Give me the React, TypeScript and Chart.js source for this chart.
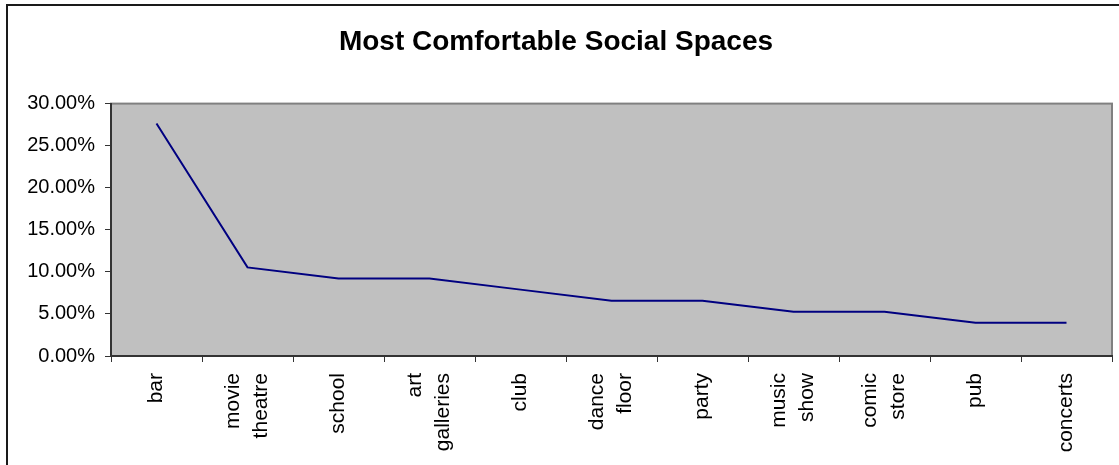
import React, { useEffect, useRef } from "react";
import { Chart, registerables } from "chart.js";

Chart.register(...registerables);

const TITLE = "Most Comfortable Social Spaces";
const CATEGORIES: string[][] = [
  ["bar"],
  ["movie", "theatre"],
  ["school"],
  ["art", "galleries"],
  ["club"],
  ["dance", "floor"],
  ["party"],
  ["music", "show"],
  ["comic", "store"],
  ["pub"],
  ["concerts"],
];
const SHARES: number[] = [0.2763, 0.1053, 0.0921, 0.0921, 0.0789, 0.0658, 0.0658, 0.0526, 0.0526, 0.0395, 0.0395];
const Y_MIN = 0;
const Y_MAX = 0.3;
const Y_STEP = 0.05;

const FONT = "'Liberation Sans', Arial, sans-serif";

const plotBackground = {
  id: "plotBackground",
  beforeDraw(chart: any) {
    const { ctx, chartArea } = chart;
    const { left, top, right, bottom } = chartArea;
    ctx.save();
    ctx.fillStyle = "#ffffff";
    ctx.fillRect(0, 0, chart.width, chart.height);
    // outer frame
    ctx.strokeStyle = "#1a1a1a";
    ctx.lineWidth = 2;
    ctx.beginPath();
    ctx.moveTo(7, chart.height);
    ctx.lineTo(7, 5);
    ctx.lineTo(chart.width, 5);
    ctx.stroke();
    // plot area
    ctx.fillStyle = "#c0c0c0";
    ctx.fillRect(left, top, right - left, bottom - top);
    ctx.strokeStyle = "#808080";
    ctx.lineWidth = 2;
    ctx.strokeRect(left, top, right - left, bottom - top);
    ctx.restore();
  },
};

const xLabels = {
  id: "xLabels",
  afterDraw(chart: any) {
    const { ctx } = chart;
    const xs = chart.scales.x;
    const yTop = chart.chartArea.bottom + 17;
    const lh = 28;
    ctx.save();
    ctx.fillStyle = "#000";
    ctx.font = `21px ${FONT}`;
    ctx.textAlign = "right";
    ctx.textBaseline = "middle";
    CATEGORIES.forEach((lines, i) => {
      const cx = xs.getPixelForValue(i);
      lines.forEach((line, j) => {
        const x = cx + (j - (lines.length - 1) / 2) * lh;
        ctx.save();
        ctx.translate(x, yTop);
        ctx.rotate(-Math.PI / 2);
        ctx.fillText(line, 0, 0);
        ctx.restore();
      });
    });
    ctx.restore();
  },
};

export default function App() {
  const ref = useRef<HTMLCanvasElement | null>(null);

  useEffect(() => {
    document.body.style.margin = "0";
    const canvas = ref.current!;
    const chart = new Chart(canvas, {
      type: "line",
      data: {
        labels: CATEGORIES.map((c) => c.join(" ")),
        datasets: [
          {
            data: SHARES,
            borderColor: "#000080",
            borderWidth: 2,
            pointRadius: 0,
            tension: 0,
            fill: false,
          },
        ],
      },
      options: {
        responsive: false,
        animation: false,
        devicePixelRatio: 1,
        layout: { padding: { left: 0, right: 7, top: 0, bottom: 0 } },
        plugins: {
          legend: { display: false },
          tooltip: { enabled: false },
          title: {
            display: true,
            text: TITLE,
            color: "#000",
            font: { family: FONT, size: 28, weight: "bold", lineHeight: 1.2 },
            padding: { top: 25, bottom: 45 },
          },
        },
        scales: {
          x: {
            type: "category",
            offset: true,
            grid: {
              offset: true,
              drawOnChartArea: false,
              drawTicks: true,
              tickLength: 6,
              color: "#333",
            },
            border: { display: true, color: "#333", width: 2 },
            ticks: { display: false },
            afterFit: (scale: any) => {
              scale.height = 109;
            },
          },
          y: {
            min: Y_MIN,
            max: Y_MAX,
            grid: {
              drawOnChartArea: false,
              drawTicks: true,
              tickLength: 6,
              color: "#333",
            },
            border: { display: true, color: "#333", width: 2 },
            ticks: {
              stepSize: Y_STEP,
              color: "#000",
              padding: 10,
              font: { family: FONT, size: 20 },
              callback: (v: any) => (Number(v) * 100).toFixed(2) + "%",
            },
            afterFit: (scale: any) => {
              scale.width = 111;
            },
          },
        },
      },
      plugins: [plotBackground, xLabels],
    });
    return () => chart.destroy();
  }, []);

  return (
    <div style={{ width: 1119, height: 465 }}>
      <canvas ref={ref} width={1119} height={465} style={{ display: "block" }} />
    </div>
  );
}
